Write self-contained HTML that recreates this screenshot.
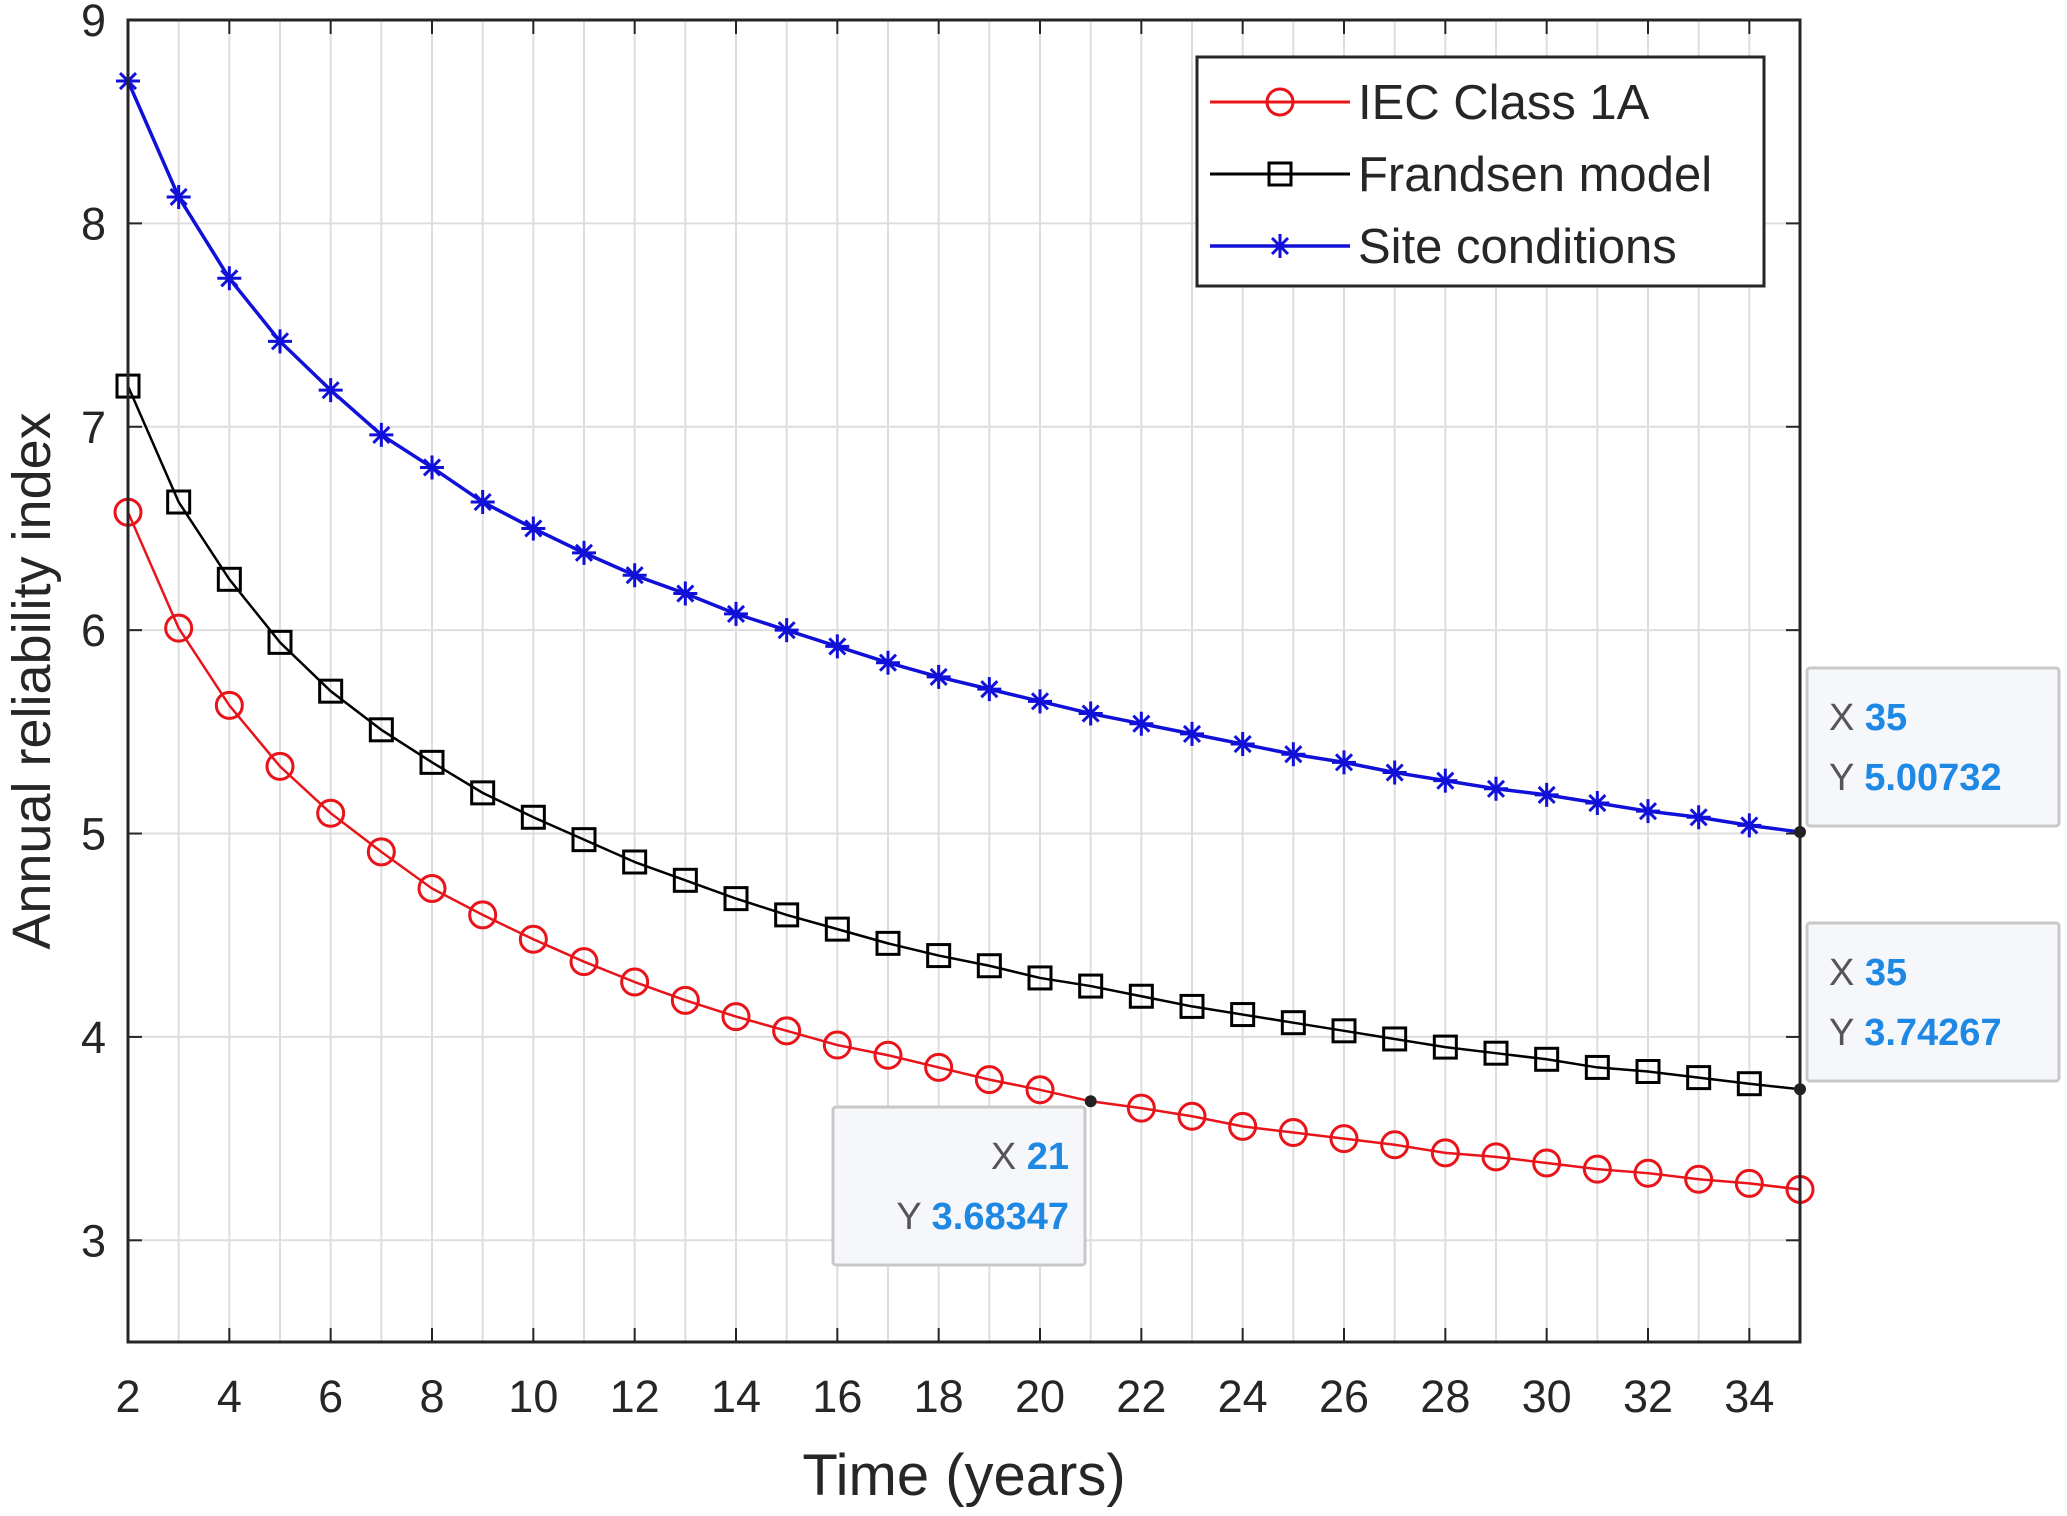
<!DOCTYPE html>
<html><head><meta charset="utf-8"><style>
html,body{margin:0;padding:0;background:#fff;}
svg{display:block;font-family:"Liberation Sans",sans-serif;}
</style></head><body>
<svg id="chart" width="2067" height="1516" viewBox="0 0 2067 1516" xmlns="http://www.w3.org/2000/svg">
<g id="grid"></g>
<g id="series"></g>
<g id="axes"></g>
<text x="964" y="1495" font-size="58" text-anchor="middle" fill="#262626">Time (years)</text>
<text transform="translate(50,681) rotate(-90)" font-size="54" text-anchor="middle" fill="#262626">Annual reliability index</text>
<g>
<rect x="1197" y="57" width="567" height="229" fill="#fff" stroke="#262626" stroke-width="3"/>
<g>
<line x1="1210" y1="102" x2="1350" y2="102" stroke="#e8141a" stroke-width="3"/>
<circle cx="1280" cy="102" r="13" fill="none" stroke="#e8141a" stroke-width="3"/>
<text x="1358" y="119" font-size="49" fill="#262626">IEC Class 1A</text></g>
<g>
<line x1="1210" y1="174" x2="1350" y2="174" stroke="#000" stroke-width="3"/>
<rect x="1269" y="163" width="22" height="22" fill="none" stroke="#000" stroke-width="3"/>
<text x="1358" y="191" font-size="49" fill="#262626">Frandsen model</text></g>
<g>
<line x1="1210" y1="246" x2="1350" y2="246" stroke="#1010d8" stroke-width="3.5"/>
<g stroke="#1010d8" stroke-width="3"><line x1="1268" y1="246" x2="1292" y2="246"/><line x1="1280" y1="234" x2="1280" y2="258"/><line x1="1272" y1="238" x2="1288" y2="254"/><line x1="1272" y1="254" x2="1288" y2="238"/></g>
<text x="1358" y="263" font-size="49" fill="#262626">Site conditions</text></g>
</g>
<g id="tips"></g>
<script>
const xs=[2,3,4,5,6,7,8,9,10,11,12,13,14,15,16,17,18,19,20,21,22,23,24,25,26,27,28,29,30,31,32,33,34,35];
const site=[8.70,8.13,7.73,7.42,7.18,6.96,6.80,6.63,6.50,6.38,6.27,6.18,6.08,6.00,5.92,5.84,5.77,5.71,5.65,5.59,5.54,5.49,5.44,5.39,5.35,5.30,5.26,5.22,5.19,5.15,5.11,5.08,5.04,5.00732];
const frandsen=[7.20,6.63,6.25,5.94,5.70,5.51,5.35,5.20,5.08,4.97,4.86,4.77,4.68,4.60,4.53,4.46,4.40,4.35,4.29,4.25,4.20,4.15,4.11,4.07,4.03,3.99,3.95,3.92,3.89,3.85,3.83,3.80,3.77,3.74267];
const iec=[6.58,6.01,5.63,5.33,5.10,4.91,4.73,4.60,4.48,4.37,4.27,4.18,4.10,4.03,3.96,3.91,3.85,3.79,3.74,3.68347,3.65,3.61,3.56,3.53,3.50,3.47,3.43,3.41,3.38,3.35,3.33,3.30,3.28,3.25];
const xTicks=[2,4,6,8,10,12,14,16,18,20,22,24,26,28,30,32,34];
const yTicks=[3,4,5,6,7,8,9];
const tipXs=[35,35,21];
const tipYs=[5.00732,3.74267,3.68347];
const tipLabelsX=["35","35","21"];
const tipLabelsY=["5.00732","3.74267","3.68347"];

const L=128,R=1800,T=20,B=1342,X0=2,X1=35,Y0=2.5,Y1=9;
const sx=v=>L+(v-X0)/(X1-X0)*(R-L);
const sy=v=>B-(v-Y0)/(Y1-Y0)*(B-T);
const NS="http://www.w3.org/2000/svg";
function mk(tag,at,parent){const e=document.createElementNS(NS,tag);for(const k in at)e.setAttribute(k,at[k]);parent.appendChild(e);return e;}
const grid=document.getElementById('grid'),ser=document.getElementById('series'),ax=document.getElementById('axes'),tips=document.getElementById('tips');
mk('rect',{x:L,y:T,width:R-L,height:B-T,fill:'#fff'},grid);
for(let v=X0;v<=X1;v++){const g=mk('line',{x1:sx(v),x2:sx(v),y1:T,y2:B,stroke:'#dedede','stroke-width':2},grid);

}
for(let v=3;v<=9;v++){const g=mk('line',{x1:L,x2:R,y1:sy(v),y2:sy(v),stroke:'#dedede','stroke-width':2},grid);

}
function line(vals,color,w,name){const p=mk('polyline',{points:xs.map((x,i)=>sx(x)+','+sy(vals[i])).join(' '),fill:'none',stroke:color,'stroke-width':w},ser);

}
line(iec,'#e8141a',2.5,'iec-line');line(frandsen,'#000',2.5,'frandsen-line');line(site,'#1010d8',3.5,'site-line');
xs.forEach((x,i)=>{
 if(x!==21){const c=mk('circle',{cx:sx(x),cy:sy(iec[i]),r:13,fill:'none',stroke:'#e8141a','stroke-width':3},ser);
 
 }
 if(x!==35){const r=mk('rect',{x:sx(x)-11,y:sy(frandsen[i])-11,width:22,height:22,fill:'none',stroke:'#000','stroke-width':3},ser);
 
 
 const cx=sx(x),cy=sy(site[i]);
 const s=mk('path',{d:`M${cx-12},${cy}H${cx+12}M${cx},${cy-12}V${cy+12}M${cx-8},${cy-8}L${cx+8},${cy+8}M${cx-8},${cy+8}L${cx+8},${cy-8}`,stroke:'#1010d8','stroke-width':3,fill:'none'},ser);
 
 }
});
mk('rect',{x:L,y:T,width:R-L,height:B-T,fill:'none',stroke:'#262626','stroke-width':3},ax);
xTicks.forEach(v=>{mk('line',{x1:sx(v),x2:sx(v),y1:B,y2:B-14,stroke:'#262626','stroke-width':2},ax);mk('line',{x1:sx(v),x2:sx(v),y1:T,y2:T+14,stroke:'#262626','stroke-width':2},ax);
 const t=mk('text',{x:sx(v),y:B+70,'font-size':45,'text-anchor':'middle',fill:'#262626'},ax);t.textContent=v;
 
 });
yTicks.forEach(v=>{mk('line',{x1:L,x2:L+14,y1:sy(v),y2:sy(v),stroke:'#262626','stroke-width':2},ax);mk('line',{x1:R,x2:R-14,y1:sy(v),y2:sy(v),stroke:'#262626','stroke-width':2},ax);
 const t=mk('text',{x:L-22,y:sy(v)+16,'font-size':45,'text-anchor':'end',fill:'#262626'},ax);t.textContent=v;
 
 });
const boxes=[[1807,668],[1807,923],[833,1107]];
function tipText(g,x,y,anc,lab,val){
 const t=mk('text',{x:x,y:y,'font-size':38,fill:'#555','text-anchor':anc},g);
 const a=mk('tspan',{},t);a.textContent=lab+' ';
 const b=mk('tspan',{fill:'#1e88e5','font-weight':'bold'},t);b.textContent=val;
}
tipXs.forEach((x,i)=>{const g=mk('g',{},tips);
 
 
 mk('circle',{cx:sx(x),cy:sy(tipYs[i]),r:6,fill:'#222'},g);
 const [bx,by]=boxes[i];
 mk('rect',{x:bx,y:by,width:252,height:158,fill:'#f6f7fb',stroke:'#c8c8c8','stroke-width':3,rx:3},g);
 const right=i===2;const ax2=right?bx+236:bx+22;const anc=right?'end':'start';
 tipText(g,ax2,by+62,anc,'X',tipLabelsX[i]);
 tipText(g,ax2,by+122,anc,'Y',tipLabelsY[i]);
});
</script>
</svg>
</body></html>
